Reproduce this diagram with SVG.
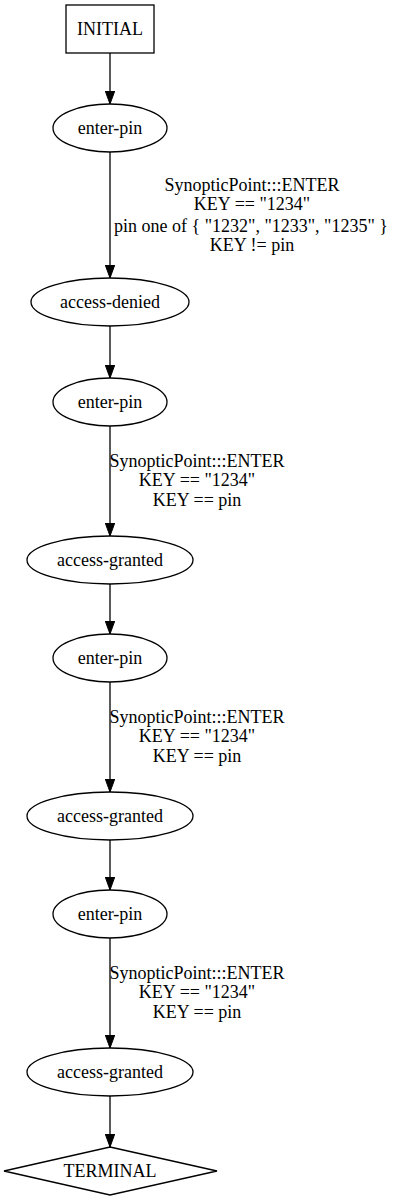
<svg xmlns="http://www.w3.org/2000/svg" width="400" height="1200" viewBox="0 0 400 1200">
<style>
text{font-family:"Liberation Serif","Times New Roman",serif;font-size:18px;fill:#000}
.n{fill:none;stroke:#000;stroke-width:1.3}
.c{text-anchor:middle}
.e{stroke:#000;stroke-width:1.3;fill:none}
</style>
<defs>
<marker id="ah" markerWidth="14" markerHeight="10" refX="13" refY="4.75" orient="auto" markerUnits="userSpaceOnUse">
<path d="M0,0 L13,4.75 L0,9.5 z" fill="#000" stroke="#000"/>
</marker>
</defs>
<rect width="400" height="1200" fill="#fff"/>
<g id="edges">
<line class="e" x1="110" y1="53" x2="110" y2="104" marker-end="url(#ah)"/>
<line class="e" x1="110" y1="152" x2="110" y2="278" marker-end="url(#ah)"/>
<line class="e" x1="110" y1="326" x2="110" y2="378" marker-end="url(#ah)"/>
<line class="e" x1="110" y1="426" x2="110" y2="536" marker-end="url(#ah)"/>
<line class="e" x1="110" y1="584" x2="110" y2="634" marker-end="url(#ah)"/>
<line class="e" x1="110" y1="682" x2="110" y2="792" marker-end="url(#ah)"/>
<line class="e" x1="110" y1="840" x2="110" y2="890" marker-end="url(#ah)"/>
<line class="e" x1="110" y1="938" x2="110" y2="1048" marker-end="url(#ah)"/>
<line class="e" x1="110" y1="1096" x2="110" y2="1147" marker-end="url(#ah)"/>
<g id="edge-labels">
<text class="c" x="252" y="191">SynopticPoint:::ENTER</text>
<text class="c" x="252" y="210">KEY == "1234"</text>
<text class="c" x="251" y="232">pin one of { "1232", "1233", "1235" }</text>
<text class="c" x="252" y="251">KEY != pin</text>
<text class="c" x="197" y="467">SynopticPoint:::ENTER</text>
<text class="c" x="197" y="486">KEY == "1234"</text>
<text class="c" x="197" y="506">KEY == pin</text>
<text class="c" x="197" y="723">SynopticPoint:::ENTER</text>
<text class="c" x="197" y="742">KEY == "1234"</text>
<text class="c" x="197" y="762">KEY == pin</text>
<text class="c" x="197" y="979">SynopticPoint:::ENTER</text>
<text class="c" x="197" y="998">KEY == "1234"</text>
<text class="c" x="197" y="1018">KEY == pin</text>
</g>
</g>
<g id="n-initial"><rect class="n" x="66" y="5" width="88" height="48"/><text class="c" x="110" y="35">INITIAL</text></g>
<g id="n-enter1"><ellipse class="n" cx="110" cy="128" rx="57" ry="24"/><text class="c" x="110" y="134">enter-pin</text></g>
<g id="n-denied"><ellipse class="n" cx="110" cy="302" rx="79" ry="24"/><text class="c" x="110" y="308">access-denied</text></g>
<g id="n-enter2"><ellipse class="n" cx="110" cy="402" rx="57" ry="24"/><text class="c" x="110" y="408">enter-pin</text></g>
<g id="n-granted1"><ellipse class="n" cx="110" cy="560" rx="83" ry="24"/><text class="c" x="110" y="566">access-granted</text></g>
<g id="n-enter3"><ellipse class="n" cx="110" cy="658" rx="57" ry="24"/><text class="c" x="110" y="664">enter-pin</text></g>
<g id="n-granted2"><ellipse class="n" cx="110" cy="816" rx="83" ry="24"/><text class="c" x="110" y="822">access-granted</text></g>
<g id="n-enter4"><ellipse class="n" cx="110" cy="914" rx="57" ry="24"/><text class="c" x="110" y="920">enter-pin</text></g>
<g id="n-granted3"><ellipse class="n" cx="110" cy="1072" rx="83" ry="24"/><text class="c" x="110" y="1078">access-granted</text></g>
<g id="n-terminal"><polygon class="n" points="110,1147 217,1171 110,1195 4,1171"/><text class="c" x="110" y="1177">TERMINAL</text></g>
</svg>
